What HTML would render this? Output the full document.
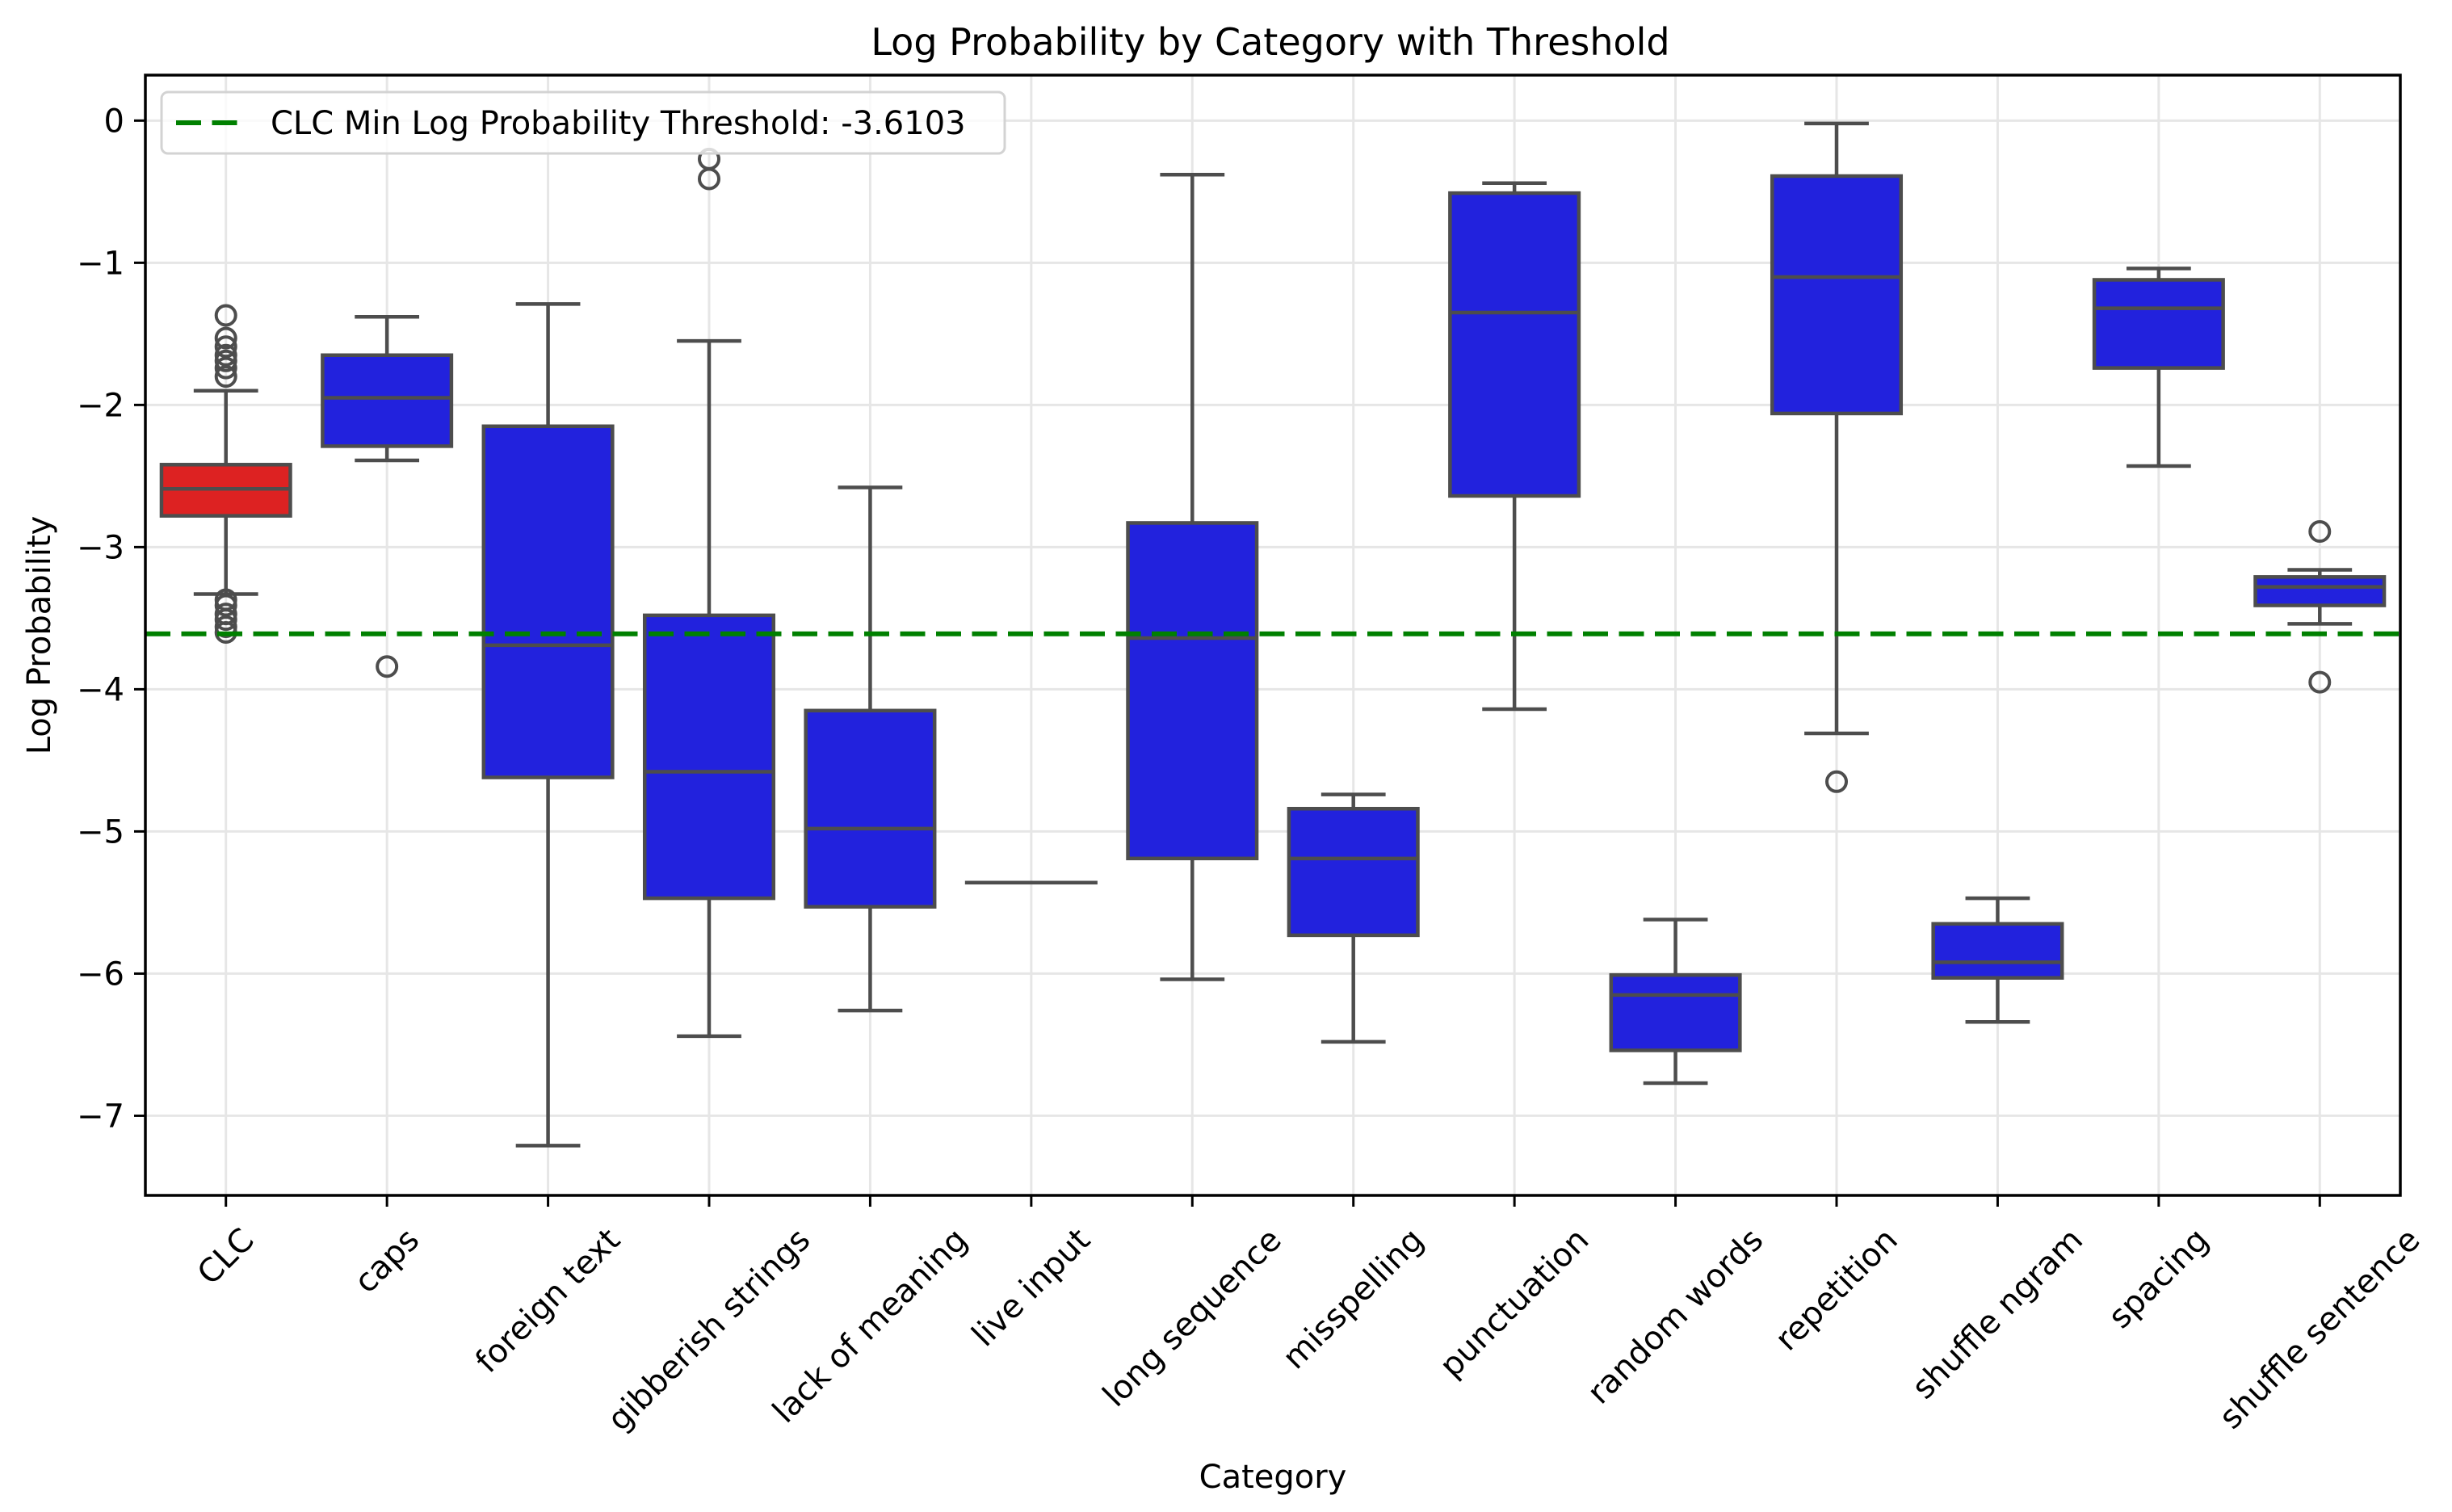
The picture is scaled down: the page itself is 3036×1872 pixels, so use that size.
<!DOCTYPE html>
<html><head><meta charset="utf-8"><style>
html,body{margin:0;padding:0;background:#fff;}
svg{display:block;font-family:"DejaVu Sans","Liberation Sans",sans-serif;}
</style></head><body>
<svg id="chart" width="3036" height="1872" viewBox="0 0 3036 1872" xmlns="http://www.w3.org/2000/svg">
<rect x="0" y="0" width="3036" height="1872" fill="#fff"/>
<g id="grid"></g>
<g id="marks"></g>
<g id="axes"></g>
</svg>
<script>
const categories = ["CLC","caps","foreign text","gibberish strings","lack of meaning","live input","long sequence","misspelling","punctuation","random words","repetition","shuffle ngram","spacing","shuffle sentence"];
const q1Values = [-2.78,-2.29,-4.62,-5.47,-5.53,-5.36,-5.19,-5.73,-2.64,-6.54,-2.06,-6.03,-1.74,-3.41];
const medianValues = [-2.59,-1.95,-3.69,-4.58,-4.98,-5.36,-3.64,-5.19,-1.35,-6.15,-1.10,-5.92,-1.32,-3.28];
const q3Values = [-2.42,-1.65,-2.15,-3.48,-4.15,-5.36,-2.83,-4.84,-0.51,-6.01,-0.39,-5.65,-1.12,-3.21];
const whiskerLow = [-3.33,-2.39,-7.21,-6.44,-6.26,-5.36,-6.04,-6.48,-4.14,-6.77,-4.31,-6.34,-2.43,-3.54];
const whiskerHigh = [-1.90,-1.38,-1.29,-1.55,-2.58,-5.36,-0.38,-4.74,-0.44,-5.62,-0.02,-5.47,-1.04,-3.16];
const outliers = [[-1.37,-1.53,-1.59,-1.65,-1.69,-1.74,-1.80,-3.37,-3.41,-3.47,-3.51,-3.56,-3.60],[-3.84],[],[-0.27,-0.41],[],[],[],[],[],[],[-4.65],[],[],[-2.89,-3.95]];
const boxColors = ["#dd2222","#2222dd","#2222dd","#2222dd","#2222dd","#2222dd","#2222dd","#2222dd","#2222dd","#2222dd","#2222dd","#2222dd","#2222dd","#2222dd"];
const yTicks = [0,-1,-2,-3,-4,-5,-6,-7];
const yTickLabels = ["0","\u22121","\u22122","\u22123","\u22124","\u22125","\u22126","\u22127"];
const threshold = -3.6103;

const NS="http://www.w3.org/2000/svg";
const L=180,R=2972,T=93,B=1480;
const yMin=-7.56,yMax=0.32;
function yS(v){return T+(yMax-v)/(yMax-yMin)*(B-T);}
function xS(i){return L+(i+0.5)*(R-L)/categories.length;}
const step=(R-L)/categories.length, bw=step*0.8;
function mk(tag,attrs,parent){const e=document.createElementNS(NS,tag);for(const k in attrs)e.setAttribute(k,attrs[k]);parent.appendChild(e);return e;}
const grid=document.getElementById('grid'),marks=document.getElementById('marks'),axes=document.getElementById('axes');
const GC="#e6e6e6",LC="#4d4d4d";
categories.forEach((c,i)=>{const g=mk('line',{x1:xS(i),x2:xS(i),y1:T,y2:B,stroke:GC,'stroke-width':3},grid);

});
yTicks.forEach((v)=>{const g=mk('line',{x1:L,x2:R,y1:yS(v),y2:yS(v),stroke:GC,'stroke-width':3},grid);

});
categories.forEach((c,i)=>{
 const x=xS(i);
 const g=mk('g',{},marks);
 
 
 mk('line',{x1:x,x2:x,y1:yS(whiskerHigh[i]),y2:yS(q3Values[i]),stroke:LC,'stroke-width':4.5},g);
 mk('line',{x1:x,x2:x,y1:yS(q1Values[i]),y2:yS(whiskerLow[i]),stroke:LC,'stroke-width':4.5},g);
 mk('line',{x1:x-bw/4,x2:x+bw/4,y1:yS(whiskerHigh[i]),y2:yS(whiskerHigh[i]),stroke:LC,'stroke-width':4.5},g);
 mk('line',{x1:x-bw/4,x2:x+bw/4,y1:yS(whiskerLow[i]),y2:yS(whiskerLow[i]),stroke:LC,'stroke-width':4.5},g);
 const y3=yS(q3Values[i]),y1=yS(q1Values[i]);
 mk('rect',{x:x-bw/2,y:y3,width:bw,height:Math.max(y1-y3,0.01),fill:boxColors[i],stroke:LC,'stroke-width':4.5},g);
 mk('line',{x1:x-bw/2,x2:x+bw/2,y1:yS(medianValues[i]),y2:yS(medianValues[i]),stroke:LC,'stroke-width':4.5},g);
 outliers[i].forEach(v=>{const o=mk('circle',{cx:x,cy:yS(v),r:12,fill:'none',stroke:LC,'stroke-width':4},marks);
 
 });
});
const th=mk('line',{x1:L,x2:R,y1:yS(threshold),y2:yS(threshold),stroke:'#008000','stroke-width':6,'stroke-dasharray':'31 13.5'},marks);


const fr=mk('rect',{x:L,y:T,width:R-L,height:B-T,fill:'none',stroke:'#000','stroke-width':3.5},axes);


yTicks.forEach((v,i)=>{mk('line',{x1:L-14,x2:L,y1:yS(v),y2:yS(v),stroke:'#000','stroke-width':3},axes);
 const t=mk('text',{x:L-26,y:yS(v)+14,'text-anchor':'end','font-size':40,fill:'#000'},axes);t.textContent=yTickLabels[i];
 
 });
categories.forEach((c,i)=>{const x=xS(i);mk('line',{x1:x,x2:x,y1:B,y2:B+14,stroke:'#000','stroke-width':3},axes);
 const t=mk('text',{x:0,y:0,'text-anchor':'middle','dominant-baseline':'central','font-size':40,fill:'#000'},axes);
 t.textContent=c;
 
 
 const w=t.getComputedTextLength(),h=40*1.16;const half=(w+h)*0.7071/2;
 t.setAttribute('transform','translate('+x+','+(B+32+half)+') rotate(-45)');});
const title=mk('text',{x:1573,y:68,'text-anchor':'middle','font-size':46,fill:'#000'},axes);title.textContent="Log Probability by Category with Threshold";


const xl=mk('text',{x:(L+R)/2,y:1842,'text-anchor':'middle','font-size':40,fill:'#000'},axes);xl.textContent="Category";


const yl=mk('text',{x:0,y:0,'text-anchor':'middle','font-size':40,fill:'#000',transform:'translate(62,'+((T+B)/2)+') rotate(-90)'},axes);yl.textContent="Log Probability";


const lg=mk('g',{},axes);


mk('rect',{x:200,y:114,width:1044,height:76,rx:8,fill:'#fff','fill-opacity':0.8,stroke:'#d3d3d3','stroke-width':3},lg);
mk('line',{x1:218,x2:305,y1:152,y2:152,stroke:'#008000','stroke-width':6,'stroke-dasharray':'31 13.5'},lg);
const lt=mk('text',{x:335,y:166,'font-size':40,fill:'#000'},lg);lt.textContent="CLC Min Log Probability Threshold: -3.6103";


</script>
</body></html>
